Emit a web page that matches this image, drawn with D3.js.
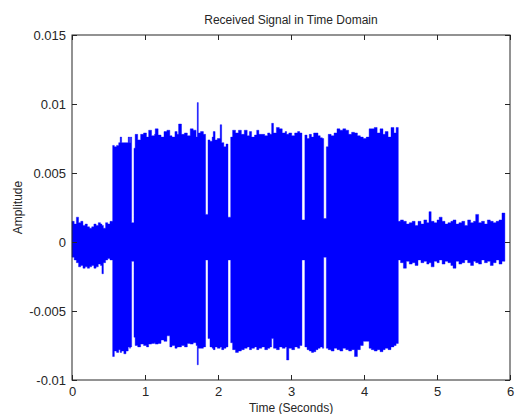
<!DOCTYPE html>
<html><head><meta charset="utf-8">
<title>Received Signal in Time Domain</title>
<script src="https://d3js.org/d3.v7.min.js"></script>
<style>
  body { margin: 0; background: #fff; }
  svg text { font-family: "Liberation Sans", Arial, sans-serif; fill: #262626; }
  .axis .domain { display: none; }
  .axis line { stroke: #262626; }
</style>
</head>
<body>
<svg id="signal" width="515" height="414"></svg>
<script>
// ticks
const xTicks = [0, 1, 2, 3, 4, 5, 6];
const xTickLabels = ["0", "1", "2", "3", "4", "5", "6"];
const yTicks = [-0.01, -0.005, 0, 0.005, 0.01, 0.015];
const yTickLabels = ["-0.01", "-0.005", "0", "0.005", "0.01", "0.015"];

// envelope of the received signal
// amplitudes are in units of 1e-3, each value holds until the next time
const ampUnit = 1e-3;
const time = [
  // quiet start
  0, 0.03, 0.06, 0.09, 0.12, 0.15, 0.18, 0.21, 0.24, 0.27, 0.30, 0.33, 0.36, 0.39, 0.41, 0.43, 0.46, 0.49, 0.52,
  // burst 1
  0.557, 0.58, 0.61, 0.64, 0.66, 0.68, 0.71, 0.74, 0.77, 0.79, 0.80,
  0.817,
  // burst 2
  0.849, 0.865, 0.9, 0.94, 0.98, 1.02, 1.05, 1.09, 1.13, 1.14, 1.18, 1.22, 1.26, 1.30, 1.34, 1.37, 1.41, 1.44,
  1.46, 1.50, 1.54, 1.58, 1.62, 1.66, 1.70, 1.716, 1.73, 1.76, 1.80,
  1.83,
  // burst 3
  1.863, 1.89, 1.92, 1.935, 1.96, 1.99, 2.03, 2.05, 2.08, 2.11,
  2.137,
  // burst 4
  2.174, 2.20, 2.24, 2.28, 2.32, 2.36, 2.40, 2.43, 2.46, 2.50, 2.53, 2.56, 2.60, 2.64, 2.68, 2.71, 2.735, 2.76,
  2.80, 2.84, 2.88, 2.92, 2.94, 2.97, 3.01, 3.05, 3.09, 3.12,
  3.15,
  // burst 5
  3.19, 3.22, 3.25, 3.28, 3.31, 3.34, 3.37, 3.40, 3.43,
  3.448,
  // burst 6
  3.484, 3.51, 3.55, 3.59, 3.63, 3.67, 3.71, 3.75, 3.79, 3.83, 3.87, 3.91, 3.95, 3.99, 4.03, 4.07, 4.10, 4.14,
  4.18, 4.22, 4.26, 4.29, 4.33, 4.37, 4.41, 4.44,
  // quiet end
  4.47, 4.50, 4.54, 4.58, 4.62, 4.66, 4.70, 4.74, 4.78, 4.82, 4.86, 4.89, 4.92, 4.96, 5.00, 5.03, 5.07, 5.11,
  5.15, 5.19, 5.22, 5.26, 5.30, 5.34, 5.38, 5.42, 5.46, 5.50, 5.53, 5.57, 5.61, 5.65, 5.69, 5.73, 5.77, 5.81,
  5.85, 5.89, 5.93
];
const upper = [
  1.5, 1.3, 1.8, 1.4, 1.5, 1.2, 1.3, 1.1, 1.0, 1.1, 1.3, 1.2, 1.4, 1.3, 1.2, 1.0, 1.4, 1.3, 1.5,
  7.0, 6.9, 7.0, 7.2, 7.6, 7.2, 7.2, 7.2, 7.6, 7.2, 7.6,
  1.4,
  6.8, 7.8, 7.4, 7.8, 7.9, 7.6, 8.1, 7.7, 7.8, 8.2, 7.75, 7.6, 8.0, 8.1, 7.7, 7.6, 8.0, 7.8,
  8.55, 7.8, 7.9, 7.7, 8.2, 8.1, 7.6, 10.1, 7.9, 8.0, 7.8,
  2.0,
  7.4, 7.3, 7.6, 8.0, 7.4, 7.5, 8.5, 7.2, 6.9, 7.1,
  1.8,
  7.6, 8.1, 7.9, 8.1, 7.8, 8.1, 7.7, 8.0, 7.6, 7.75, 8.1, 7.8, 7.8, 7.7, 7.9, 7.8, 8.6, 7.9,
  8.3, 8.2, 7.9, 8.0, 7.8, 7.9, 7.7, 7.9, 8.0, 7.9,
  1.6,
  7.75, 7.5, 7.8, 7.6, 7.9, 7.9, 7.7, 7.55, 7.5,
  1.7,
  6.9, 7.8, 7.7, 7.9, 8.2, 8.1, 8.2, 8.1, 7.8, 7.95, 7.9, 7.7, 7.6, 7.5, 7.6, 8.2, 8.2, 8.3,
  7.9, 8.2, 7.8, 8.0, 7.6, 8.3, 7.9, 8.3,
  1.5, 1.6, 1.5, 1.3, 1.4, 1.5, 1.2, 1.5, 1.3, 1.6, 1.4, 2.2, 1.5, 1.4, 1.6, 1.8, 1.5, 1.3,
  1.4, 1.5, 1.6, 1.3, 1.4, 1.5, 1.2, 1.6, 1.4, 1.5, 2.0, 1.4, 1.5, 1.3, 1.6, 1.5, 1.4, 1.5,
  1.6, 2.1, 1.3
];
const lower = [
  -1.1, -1.3, -1.5, -1.8, -1.7, -1.9, -1.8, -1.9, -1.8, -1.7, -1.9, -1.8, -1.6, -1.7, -2.3, -1.5, -1.3, -1.2, -1.3,
  -8.3, -7.9, -8.0, -7.8, -8.0, -7.9, -8.1, -7.9, -7.6, -7.7, -7.6,
  -1.4,
  -6.9, -7.5, -7.6, -7.4, -7.5, -7.6, -7.4, -7.35, -7.3, -7.4, -7.35, -7.1, -7.2, -6.8, -7.6, -7.5, -7.7, -7.6,
  -7.6, -7.5, -7.6, -7.35, -7.4, -7.3, -7.5, -8.9, -7.7, -7.7, -7.6,
  -1.3,
  -7.0, -7.6, -7.7, -7.8, -7.6, -7.7, -7.6, -7.8, -7.7, -7.6,
  -1.3,
  -7.3, -7.8, -8.0, -7.9, -7.8, -7.7, -7.6, -7.8, -7.7, -7.6, -7.8, -7.7, -7.6, -7.8, -7.7, -7.6, -7.0, -7.7,
  -7.8, -7.6, -7.7, -7.6, -8.55, -7.7, -7.8, -7.6, -7.7, -7.5,
  -1.3,
  -7.6, -7.8, -7.9, -8.0, -7.95, -7.8, -7.7, -7.6, -7.7,
  -1.1,
  -7.7, -7.8, -7.9, -7.7, -7.8, -7.9, -7.7, -7.8, -7.9, -7.8, -8.3, -7.8, -7.5, -7.2, -7.2, -7.7, -7.8, -7.9,
  -7.8, -7.95, -7.8, -7.7, -7.8, -7.6, -7.5, -7.35,
  -1.3, -1.5, -1.9, -1.4, -1.6, -1.5, -1.7, -1.3, -1.5, -1.4, -1.6, -1.5, -1.8, -1.4, -1.5, -1.3, -1.6, -1.4,
  -1.5, -1.7, -1.9, -1.4, -1.6, -1.5, -1.3, -1.5, -1.7, -1.4, -1.5, -1.6, -1.3, -1.5, -1.4, -1.7, -1.5, -1.3,
  -1.6, -1.4, -1.3
];

const svg = d3.select("svg#signal");
const margins = {top: 35, right: 5, bottom: 34, left: 72};
const chartWidth = svg.attr("width") - margins.left - margins.right;
const chartHeight = svg.attr("height") - margins.top - margins.bottom;

const xScale = d3.scaleLinear().domain([0, 6]).range([0, chartWidth]);
const yScale = d3.scaleLinear().domain([-0.01, 0.015]).range([chartHeight, 0]);

const chart = svg.append("g")
  .attr("transform", "translate(" + margins.left + "," + margins.top + ")");

// the signal, drawn as a filled envelope
const points = time.map((t, i) => ({t: t, hi: upper[i] * ampUnit, lo: lower[i] * ampUnit}));
const envelope = d3.area()
  .x(d => xScale(d.t))
  .y0(d => yScale(d.lo))
  .y1(d => yScale(d.hi))
  .curve(d3.curveStepAfter);

chart.append("path")
  .datum(points)
  .attr("d", envelope)
  .attr("fill", "#0000ff")
  .attr("stroke", "#0000ff")
  .attr("stroke-width", 0.4);

// axes, MATLAB style: ticks pointing inwards on all four sides
chart.append("g").attr("class", "axis")
  .attr("transform", "translate(0," + chartHeight + ")")
  .call(d3.axisBottom(xScale).tickValues(xTicks).tickSizeInner(-5).tickSizeOuter(0).tickPadding(7)
    .tickFormat((d, i) => xTickLabels[i]))
  .selectAll("text").attr("font-size", 13);

chart.append("g").attr("class", "axis")
  .call(d3.axisTop(xScale).tickValues(xTicks).tickSizeInner(-5).tickSizeOuter(0).tickFormat(""));

chart.append("g").attr("class", "axis")
  .call(d3.axisLeft(yScale).tickValues(yTicks).tickSizeInner(-5).tickSizeOuter(0).tickPadding(6)
    .tickFormat((d, i) => yTickLabels[i]))
  .selectAll("text").attr("font-size", 13);

chart.append("g").attr("class", "axis")
  .attr("transform", "translate(" + chartWidth + ",0)")
  .call(d3.axisRight(yScale).tickValues(yTicks).tickSizeInner(-5).tickSizeOuter(0).tickFormat(""));

chart.append("rect")
  .attr("width", chartWidth)
  .attr("height", chartHeight)
  .attr("fill", "none")
  .attr("stroke", "#262626")
  .attr("stroke-width", 1);

// labels
svg.append("text")
  .attr("x", margins.left + chartWidth / 2).attr("y", 24)
  .attr("text-anchor", "middle").attr("font-size", 12)
  .text("Received Signal in Time Domain");

svg.append("text")
  .attr("x", margins.left + chartWidth / 2).attr("y", 412)
  .attr("text-anchor", "middle").attr("font-size", 12)
  .text("Time (Seconds)");

svg.append("text")
  .attr("transform", "translate(22," + (margins.top + yScale(0.0025)) + ") rotate(-90)")
  .attr("text-anchor", "middle").attr("font-size", 12)
  .text("Amplitude");
</script>
</body>
</html>
